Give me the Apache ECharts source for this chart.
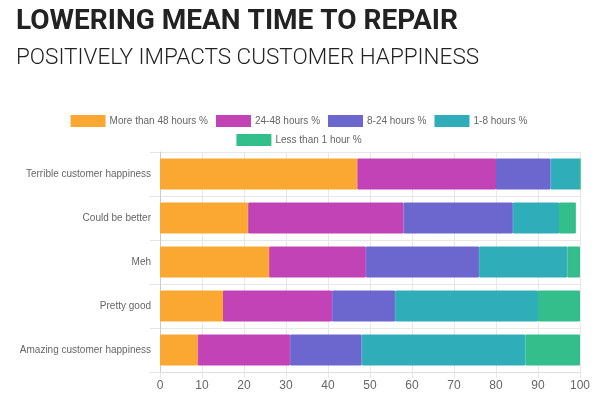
<!DOCTYPE html>
<html>
<head>
<meta charset="utf-8">
<script src="https://cdn.jsdelivr.net/npm/echarts@6/dist/echarts.min.js"></script>
<style>
  html, body { margin: 0; padding: 0; background: #fff; }
  #main { width: 598px; height: 397px; }
</style>
</head>
<body>
<div id="main"></div>
<script>
var categories = ['Terrible customer happiness', 'Could be better', 'Meh', 'Pretty good', 'Amazing customer happiness'];
var seriesNames = ['More than 48 hours %', '24-48 hours %', '8-24 hours %', '1-8 hours %', 'Less than 1 hour %'];
var over48 = [47, 21, 26, 15, 9];
var h24to48 = [33, 37, 23, 26, 22];
var h8to24 = [13, 26, 27, 15, 17];
var h1to8 = [7, 11, 21, 34, 39];
var under1 = [0, 4, 3, 10, 13];
var colors = ['#fba832', '#c243b5', '#6c67cf', '#2faeb9', '#33be8c'];

var values = [over48, h24to48, h8to24, h1to8, under1];

var chart = echarts.init(document.getElementById('main'));

var legendBase = {
    itemWidth: 33,
    itemHeight: 10,
    itemGap: 8,
    icon: 'rect',
    left: 'center',
    textStyle: { color: '#666', fontSize: 10, fontFamily: 'Liberation Sans' }
};

chart.setOption({
    animation: false,
    color: colors,
    title: [{
        text: 'LOWERING MEAN TIME TO REPAIR',
        left: 11, top: 3,
        textStyle: { fontFamily: 'Roboto', fontWeight: 'bold', fontSize: 28, color: '#222' }
    }, {
        text: 'POSITIVELY IMPACTS CUSTOMER HAPPINESS',
        left: 11, top: 42,
        textStyle: { fontFamily: 'Roboto', fontWeight: 300, fontSize: 22.5, color: '#222' }
    }],
    legend: [
        Object.assign({ top: 110, data: seriesNames.slice(0, 4) }, legendBase),
        Object.assign({ top: 129, data: seriesNames.slice(4) }, legendBase)
    ],
    grid: { left: 160, right: 18, top: 152, bottom: 25, containLabel: false },
    xAxis: {
        type: 'value',
        min: 0, max: 100, interval: 10,
        axisLine: { show: true, lineStyle: { color: '#ddd' } },
        axisTick: { show: true, length: 6, lineStyle: { color: '#e5e5e5' } },
        splitLine: { show: true, lineStyle: { color: '#e8e8e8' } },
        axisLabel: { color: '#666', fontSize: 12, fontFamily: 'Liberation Sans', margin: 8 }
    },
    yAxis: {
        type: 'category',
        inverse: true,
        data: categories,
        axisLine: { show: true, lineStyle: { color: '#ccc' } },
        axisTick: { show: true, length: 10, lineStyle: { color: '#e5e5e5' } },
        splitLine: { show: true, lineStyle: { color: '#e8e8e8' } },
        axisLabel: { color: '#666', fontSize: 10, fontFamily: 'Liberation Sans', margin: 9 }
    },
    series: seriesNames.map(function (name, i) {
        return {
            name: name,
            type: 'bar',
            stack: 'total',
            barWidth: 31,
            data: values[i],
            itemStyle: { color: colors[i], borderColor: colors[i], borderWidth: 1 }
        };
    })
});
</script>
</body>
</html>
